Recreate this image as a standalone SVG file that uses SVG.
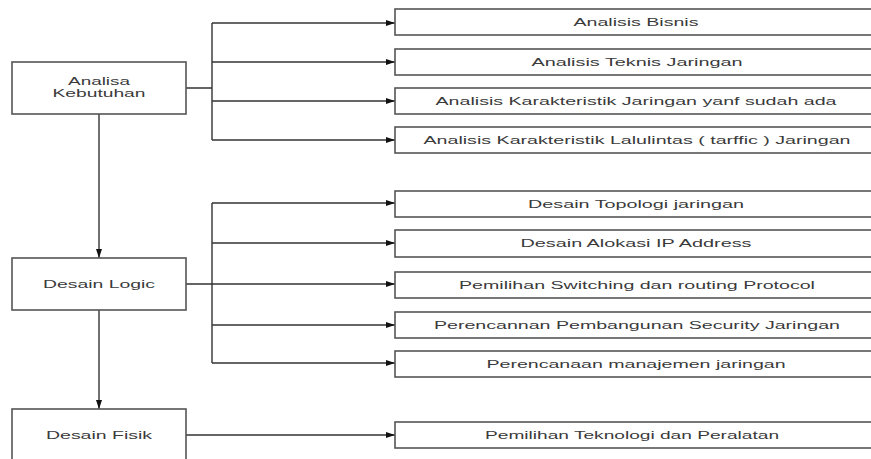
<svg xmlns="http://www.w3.org/2000/svg" width="871" height="459" viewBox="0 0 871 459">
<defs>
<marker id="ah" markerWidth="9" markerHeight="6" refX="9" refY="3" orient="auto" markerUnits="userSpaceOnUse">
<path d="M0,0 L9,3 L0,6 Z" fill="#111"/>
</marker>
<style>
.box{fill:#fff;stroke:#555;stroke-width:1.6}
.t{font-family:"Liberation Sans",Arial,sans-serif;font-size:11px;fill:#3a3a3a;text-anchor:middle}
.c{fill:none;stroke:#333;stroke-width:1.4}
.a{fill:none;stroke:#333;stroke-width:1.4;marker-end:url(#ah)}
</style>
</defs>
<rect width="871" height="459" fill="#fff"/>
<g id="connectors">
<path class="c" d="M186,88 H212 M212,23 V140 M186,284 H212 M212,203 V363"/>
<path class="a" d="M212,23 H395"/>
<path class="a" d="M212,62 H395"/>
<path class="a" d="M212,101 H395"/>
<path class="a" d="M212,140 H395"/>
<path class="a" d="M212,203 H395"/>
<path class="a" d="M212,243 H395"/>
<path class="a" d="M212,284 H395"/>
<path class="a" d="M212,325 H395"/>
<path class="a" d="M212,363 H395"/>
<path class="a" d="M186,435 H395"/>
<path class="a" d="M99,114 V258"/>
<path class="a" d="M99,310 V409"/>
</g>
<g id="n-analisa"><rect class="box" x="12" y="62" width="174" height="52"/><text class="t" transform="translate(99,85) scale(1.75,1)" textLength="35.4" lengthAdjust="spacingAndGlyphs">Analisa</text><text class="t" transform="translate(99,96.5) scale(1.75,1)" textLength="53.1" lengthAdjust="spacingAndGlyphs">Kebutuhan</text></g>
<g id="n-logic"><rect class="box" x="12" y="258" width="174" height="52"/><text class="t" transform="translate(99,288) scale(1.75,1)" textLength="64" lengthAdjust="spacingAndGlyphs">Desain Logic</text></g>
<g id="n-fisik"><rect class="box" x="12" y="409" width="174" height="62"/><text class="t" transform="translate(99,438.5) scale(1.75,1)" textLength="60.6" lengthAdjust="spacingAndGlyphs">Desain Fisik</text></g>
<g id="n-bisnis"><rect class="box" x="395" y="9" width="482" height="26"/><text class="t" transform="translate(636,25.7) scale(1.75,1)" textLength="71.4" lengthAdjust="spacingAndGlyphs">Analisis Bisnis</text></g>
<g id="n-teknis"><rect class="box" x="395" y="49" width="482" height="26"/><text class="t" transform="translate(637,65.7) scale(1.75,1)" textLength="120.6" lengthAdjust="spacingAndGlyphs">Analisis Teknis Jaringan</text></g>
<g id="n-karakteristik"><rect class="box" x="395" y="88" width="482" height="26"/><text class="t" transform="translate(636,104.7) scale(1.75,1)" textLength="229.1" lengthAdjust="spacingAndGlyphs">Analisis Karakteristik Jaringan yanf sudah ada</text></g>
<g id="n-lalulintas"><rect class="box" x="395" y="127" width="482" height="26"/><text class="t" transform="translate(637,143.7) scale(1.75,1)" textLength="244" lengthAdjust="spacingAndGlyphs">Analisis Karakteristik Lalulintas ( tarffic ) Jaringan</text></g>
<g id="n-topologi"><rect class="box" x="395" y="191" width="482" height="26"/><text class="t" transform="translate(636,207.7) scale(1.75,1)" textLength="123.4" lengthAdjust="spacingAndGlyphs">Desain Topologi jaringan</text></g>
<g id="n-alokasi"><rect class="box" x="395" y="230" width="482" height="27"/><text class="t" transform="translate(636,247) scale(1.75,1)" textLength="132" lengthAdjust="spacingAndGlyphs">Desain Alokasi IP Address</text></g>
<g id="n-switching"><rect class="box" x="395" y="272" width="482" height="26"/><text class="t" transform="translate(637,288.5) scale(1.75,1)" textLength="203.4" lengthAdjust="spacingAndGlyphs">Pemilihan Switching dan routing Protocol</text></g>
<g id="n-security"><rect class="box" x="395" y="312" width="482" height="26"/><text class="t" transform="translate(637,328.7) scale(1.75,1)" textLength="232" lengthAdjust="spacingAndGlyphs">Perencannan Pembangunan Security Jaringan</text></g>
<g id="n-manajemen"><rect class="box" x="395" y="351" width="482" height="26"/><text class="t" transform="translate(636,367.7) scale(1.75,1)" textLength="170.9" lengthAdjust="spacingAndGlyphs">Perencanaan manajemen jaringan</text></g>
<g id="n-teknologi"><rect class="box" x="395" y="422" width="482" height="26"/><text class="t" transform="translate(632,438.7) scale(1.75,1)" textLength="168" lengthAdjust="spacingAndGlyphs">Pemilihan Teknologi dan Peralatan</text></g>
</svg>
